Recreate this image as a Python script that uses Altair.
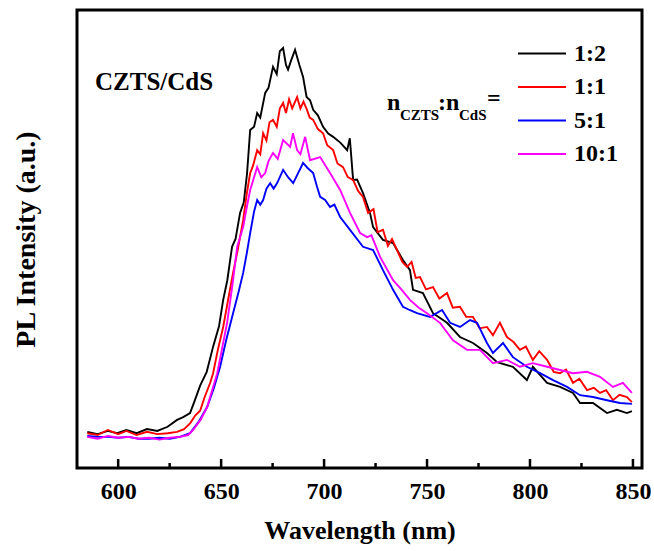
import altair as alt
import pandas as pd

# ---------------- data ----------------
series = ["1:2", "1:1", "5:1", "10:1"]
colors = ["#000000", "#ff0000", "#0000ff", "#ff00ff"]

wl_12 = [585, 590, 595, 599.5, 604, 609, 614, 619, 624, 628.6, 631.6, 634.9, 637, 639.8, 643, 646.1, 649, 651, 653,
         655.3, 657, 659.2, 661, 662.6, 664.1, 666, 667.5, 669, 671.4, 673, 675.2, 677, 678.5, 680.1, 681.5, 682.5,
         684, 685.9, 688, 689.8, 691.5, 693.2, 694.7, 697, 699.5, 702, 704.4, 708, 711.2, 712.5, 714.1, 716, 718.9,
         722.3, 723.8, 728.6, 733.5, 738.3, 741.7, 743.2, 748, 752.9, 759.7, 766, 772.3, 779.1, 784, 791.7, 798.5,
         801.4, 808.3, 814.6, 820.9, 824.3, 830.6, 837.4, 842.2, 847.1, 849.5]
pl_12 = [7.9, 7.4, 8.1, 7.6, 8.3, 7.6, 8.5, 8.1, 9.0, 10.5, 11.1, 12.0, 14.5, 18.0, 21.0, 26.5, 31.0, 36.7, 41.0,
         48.3, 50.0, 55.7, 58.0, 64.4, 73.8, 74.5, 77.5, 76.5, 81.9, 83.0, 87.6, 86.0, 91.0, 91.7, 88.0, 87.0,
         89.0, 91.3, 88.0, 85.4, 81.0, 80.3, 78.2, 77.0, 74.5, 73.0, 72.3, 71.0, 69.4, 72.0, 62.9, 63.0, 60.0,
         55.7, 52.6, 49.8, 49.1, 45.4, 43.2, 38.9, 38.2, 33.8, 31.7, 28.6, 27.3, 25.1, 23.1, 22.1, 19.2,
         22.1, 18.6, 17.7, 16.4, 14.2, 14.2, 12.0, 12.7, 12.0, 12.4]

wl_11 = [585, 590, 595, 600, 604, 609, 614, 619, 624, 628.6, 632, 635, 637.5, 639.8, 642, 644.7, 646.1, 648.5, 651,
         653.5, 655.8, 658, 660.7, 662.5, 664.1, 665.5, 667.5, 669, 670.4, 672, 673.5, 675.2, 677, 678.5, 680.1,
         681.5, 683, 684.5, 686.9, 688.5, 690, 691.7, 693, 694.7, 697, 699.5, 701.5, 704.4, 706.5, 709.2, 711.5,
         714.1, 716.5, 718.9, 721.4, 724, 726, 728.6, 731, 733, 735.4, 738, 740.3, 742.5, 744.5, 746.6, 749.5,
         752.9, 756, 759.7, 762.5, 766, 769, 772.3, 775.5, 779.1, 782, 785.4, 788.8, 792, 795.1, 798, 801.4,
         804.5, 808.3, 811.5, 814.6, 817.5, 820.9, 824, 827.7, 831, 834, 837, 840.3, 843.5, 847.1, 849.5]
pl_11 = [7.6, 7.2, 8.3, 7.4, 8.1, 7.2, 7.9, 7.4, 7.6, 7.9, 8.5, 9.8, 11.5, 12.5, 15.5, 18.6, 20.7, 26.0, 30.8,
         37.0, 42.6, 47.5, 54.1, 60.0, 64.4, 66.0, 69.4, 68.5, 73.1, 71.5, 75.5, 76.0, 74.5, 78.5, 79.7,
         77.5, 80.5, 78.5, 81.0, 78.5, 80.0, 78.2, 76.5, 76.0, 74.0, 73.1, 70.5, 69.4, 66.5, 65.7, 63.5,
         62.9, 60.5, 59.2, 55.7, 56.5, 51.5, 52.0, 48.5, 50.0, 47.6, 45.0, 43.9, 45.0, 41.5, 41.7, 39.0,
         39.5, 37.0, 38.2, 35.0, 35.2, 33.0, 33.0, 30.5, 30.8, 29.0, 31.7, 28.6, 27.5, 25.8, 26.5, 23.6,
         25.5, 23.6, 21.0, 20.7, 21.5, 18.6, 19.5, 17.0, 17.5, 16.4, 17.0, 14.8, 16.0, 15.5, 14.4]

wl_51 = [585, 590, 595, 600, 605, 610, 615, 620, 625, 630, 634.9, 639, 643.2, 646.5, 649.5, 652.5, 655.8, 658.5,
         660.7, 662.5, 664.1, 666, 667.5, 669, 670.4, 672, 673.8, 675.5, 677.2, 680.1, 682.5, 685, 687.5, 689.8,
         692, 694.7, 696.5, 698.1, 700.5, 702.9, 705, 707.8, 712.6, 718.9, 723.8, 728.6, 733.5, 738.3, 741.5,
         745.1, 751.5, 757.3, 761.2, 766, 770.9, 774.3, 779.1, 782, 786.9, 791.7, 798.5, 804.9, 811.2, 818,
         824.3, 830.6, 837.4, 843.7, 849.5]
pl_51 = [7.0, 6.8, 6.8, 6.6, 6.8, 6.4, 6.4, 6.6, 6.4, 6.8, 7.6, 10.0, 13.3, 17.5, 22.1, 28.0, 33.8, 38.5,
         42.6, 47.0, 51.3, 56.0, 58.5, 57.5, 58.5, 61.0, 62.2, 61.0, 62.2, 65.1, 63.5, 62.2, 64.5, 66.6,
         65.5, 64.4, 61.5, 59.2, 58.5, 57.0, 57.5, 54.8, 52.0, 48.3, 47.6, 43.2, 38.9, 35.2, 34.5,
         33.8, 33.0, 34.5, 31.7, 30.8, 32.3, 31.7, 27.3, 25.1, 27.3, 24.2, 22.1, 20.7, 19.2, 17.7,
         15.9, 15.5, 14.8, 14.2, 14.0]

wl_101 = [585, 590, 595, 600, 605, 610, 615, 620, 625, 630, 634, 636.4, 640, 643.2, 648.1, 652.9, 655.5, 657.8,
          660.7, 662.5, 664.1, 667.5, 669.5, 671.4, 673, 675.2, 677.5, 680.1, 683.5, 684.9, 686.9, 688.5, 690.8,
          693.2, 698.1, 702.9, 707.8, 712.6, 717.5, 720.9, 723, 727.2, 733.5, 737.5, 741.7, 746, 750, 756.3,
          762.6, 769.4, 775.7, 782, 788.8, 795.1, 801.4, 808.3, 814.6, 820.9, 827.7, 834, 840.3, 845.1, 849.5]
pl_101 = [6.8, 6.4, 7.0, 6.6, 6.8, 6.4, 6.6, 6.2, 6.6, 6.8, 7.2, 8.3, 10.5, 13.3, 20.7, 31.7, 40.0, 48.3,
          52.6, 57.0, 60.7, 65.7, 63.5, 64.4, 67.0, 68.8, 67.5, 71.6, 70.1, 73.1, 69.4, 68.5, 72.3,
          67.2, 67.9, 64.4, 60.7, 55.7, 51.3, 50.4, 50.8, 46.1, 41.0, 39.0, 36.7, 35.0, 33.8, 31.7,
          27.9, 25.8, 25.8, 22.9, 23.6, 22.1, 22.9, 22.1, 21.4, 20.7, 21.0, 19.9, 17.7, 18.6, 16.4]

major_ticks = [600, 650, 700, 750, 800, 850]
minor_ticks = [625, 675, 725, 775, 825]

# ---------------- build table ----------------
frames = []
for name, wl, pl in [("1:2", wl_12, pl_12), ("1:1", wl_11, pl_11), ("5:1", wl_51, pl_51), ("10:1", wl_101, pl_101)]:
    frames.append(pd.DataFrame({"wl": wl, "pl": pl, "ratio": name}))
df = pd.concat(frames, ignore_index=True)

FONT = "Liberation Serif"
W, H = 565, 458

x_scale = alt.Scale(domain=[580, 854.4], nice=False, zero=False)
y_scale = alt.Scale(domain=[0, 100], nice=False, zero=False)
x_axis = alt.Axis(title="Wavelength (nm)", values=major_ticks, grid=False, domain=False,
                  ticks=False, tickSize=0, labelPadding=11, labelFont=FONT, labelFontSize=24,
                  labelFontWeight="bold", labelColor="black", titleFont=FONT, titleFontSize=26,
                  titleFontWeight="bold", titleColor="black", titlePadding=14, labelFlush=False)


def x_enc():
    return alt.X("wl:Q", scale=x_scale, axis=x_axis, title="Wavelength (nm)")


lines = alt.Chart(df).mark_line(strokeWidth=1.9).encode(
    x=x_enc(),
    y=alt.Y("pl:Q", scale=y_scale,
            axis=alt.Axis(title="PL Intensity (a.u.)", labels=False, ticks=False, domain=False, grid=False,
                          titleFont=FONT, titleFontSize=28, titleFontWeight="bold", titleColor="black",
                          titlePadding=37)),
    color=alt.Color("ratio:N", sort=series, scale=alt.Scale(domain=series, range=colors),
                    legend=alt.Legend(orient="none", legendX=440, legendY=32, title=None,
                                      symbolType="stroke", symbolSize=2304, symbolStrokeWidth=2,
                                      clipHeight=23, rowPadding=8.5, labelOffset=7, padding=0,
                                      labelFont=FONT, labelFontSize=24, labelFontWeight="bold",
                                      labelColor="black")),
)

major_df = pd.DataFrame({"wl": major_ticks})
minor_df = pd.DataFrame({"wl": minor_ticks})
major_rules = alt.Chart(major_df).mark_rule(color="black", strokeWidth=2.5).encode(
    x=x_enc(), y=alt.value(H), y2=alt.value(H - 9))
minor_rules = alt.Chart(minor_df).mark_rule(color="black", strokeWidth=2.5).encode(
    x=x_enc(), y=alt.value(H), y2=alt.value(H - 5))


def label(text, x, y, size, align="left"):
    return alt.Chart(pd.DataFrame({"t": [text]})).mark_text(
        font=FONT, fontSize=size, fontWeight="bold", color="black", align=align, baseline="alphabetic"
    ).encode(text="t:N", x=alt.value(x), y=alt.value(y))


annots = [
    label("CZTS/CdS", 18, 80, 25),
    label("n", 310, 100, 24),
    label("CZTS", 323, 110, 15),
    label(":", 361, 100, 24),
    label("n", 369, 100, 24),
    label("CdS", 382, 110, 15),
    label("=", 410, 96, 24),
]

chart = alt.layer(lines, major_rules, minor_rules, *annots).properties(
    width=W, height=H,
    autosize=alt.AutoSizeParams(type="none"),
    padding={"left": 77, "top": 10, "right": 12, "bottom": 83},
    background="white",
).configure_view(stroke="black", strokeWidth=3)

chart.save("out.html", embed_options={"renderer": "svg", "actions": False})
